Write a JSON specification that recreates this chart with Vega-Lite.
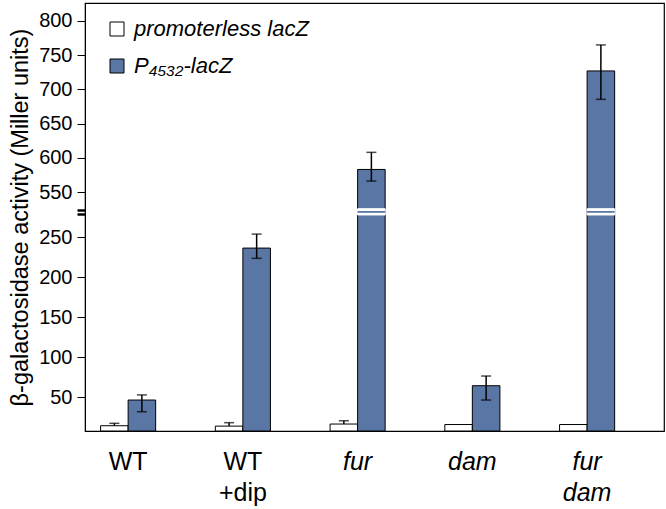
{
  "$schema": "https://vega.github.io/schema/vega-lite/v6.json",
  "width": 579,
  "height": 428,
  "autosize": {"type": "none"},
  "padding": {"left": 85, "top": 3, "right": 2, "bottom": 78},
  "config": {
    "font": "Liberation Sans",
    "view": {"stroke": "black", "strokeWidth": 1.2},
    "axis": {"grid": false, "domainColor": "black", "tickColor": "black", "labelColor": "black", "titleColor": "black"}
  },
  "data": {
    "values": [
      {"group": "WT", "series": "promoterless lacZ", "value": 14.5, "lo": 14.5, "hi": 17.5},
      {"group": "WT", "series": "P₄₅₃₂-lacZ", "value": 46.6, "lo": 32, "hi": 53},
      {"group": "WT +dip", "series": "promoterless lacZ", "value": 14, "lo": 14, "hi": 18.3},
      {"group": "WT +dip", "series": "P₄₅₃₂-lacZ", "value": 236.5, "lo": 223.7, "hi": 254},
      {"group": "fur", "series": "promoterless lacZ", "value": 16.6, "lo": 16.6, "hi": 20.8},
      {"group": "fur", "series": "P₄₅₃₂-lacZ", "value": 583, "lo": 566, "hi": 608},
      {"group": "dam", "series": "promoterless lacZ", "value": 16, "lo": null, "hi": null},
      {"group": "dam", "series": "P₄₅₃₂-lacZ", "value": 64.5, "lo": 46.6, "hi": 76.6},
      {"group": "fur dam", "series": "promoterless lacZ", "value": 16, "lo": null, "hi": null},
      {"group": "fur dam", "series": "P₄₅₃₂-lacZ", "value": 727, "lo": 685.5, "hi": 765}
    ]
  },
  "encoding": {
    "x": {
      "field": "group", "type": "nominal",
      "sort": ["WT", "WT +dip", "fur", "dam", "fur dam"],
      "scale": {"paddingInner": 0.52, "paddingOuter": 0.283, "align": 0.24},
      "axis": {
        "title": null, "ticks": false, "labelAngle": 0, "labelFontSize": 25,
        "labelPadding": 18, "labelLineHeight": 31, "labelOverlap": false,
        "labelExpr": "split(datum.value, ' ')",
        "labelFontStyle": {"condition": {"test": "indexof(datum.value, 'WT') < 0", "value": "italic"}, "value": "normal"}
      }
    },
    "xOffset": {
      "field": "series", "type": "nominal",
      "sort": ["promoterless lacZ", "P₄₅₃₂-lacZ"],
      "scale": {"paddingInner": 0, "paddingOuter": 0}
    }
  },
  "layer": [
    {
      "mark": {"type": "bar", "stroke": "black", "strokeWidth": 1},
      "encoding": {
        "y": {
          "field": "value", "type": "quantitative",
          "scale": {"domain": [7.9, 281.6, 520.8, 826.3], "range": [428, 209, 209, 0], "clamp": true, "nice": false, "zero": false},
          "axis": {
            "title": "β-galactosidase activity (Miller units)",
            "titleFontSize": 23.5, "titleFontWeight": "normal", "titlePadding": 6,
            "labelFontSize": 20, "labelPadding": 5, "tickSize": 8, "tickCount": 30,
            "labelOverlap": false, "labelBound": false, "labelFlush": false,
            "values": [50, 100, 150, 200, 250, 279, 524, 550, 600, 650, 700, 750, 800],
            "labelExpr": "(datum.value == 279 || datum.value == 524) ? '' : datum.label",
            "tickWidth": {"condition": {"test": "datum.value == 279 || datum.value == 524", "value": 2.5}, "value": 1}
          }
        },
        "fill": {
          "field": "series", "type": "nominal",
          "sort": ["promoterless lacZ", "P₄₅₃₂-lacZ"],
          "scale": {"domain": ["promoterless lacZ", "P₄₅₃₂-lacZ"], "range": ["white", "#5a76a5"]},
          "legend": {
            "title": null, "orient": "none", "legendX": 21, "legendY": 15,
            "symbolType": "square", "symbolSize": 196, "symbolStrokeColor": "black", "symbolStrokeWidth": 1,
            "labelFontSize": 22, "labelFontStyle": "italic", "labelOffset": 6, "rowPadding": 15,
            "labelColor": "black", "labelLimit": 400
          }
        }
      }
    },
    {
      "transform": [{"filter": "datum.value > 300"}],
      "mark": {"type": "bar", "fill": "white", "stroke": "white", "strokeWidth": 1},
      "encoding": {
        "y": {"datum": 525.6, "type": "quantitative"},
        "y2": {"datum": 277.9}
      }
    },
    {
      "transform": [{"filter": "datum.value > 300"}],
      "mark": {"type": "bar", "fill": "#5a76a5"},
      "encoding": {
        "y": {"datum": 522.3, "type": "quantitative"},
        "y2": {"datum": 280.6}
      }
    },
    {
      "transform": [{"filter": "datum.lo != null"}],
      "mark": {"type": "rule", "color": "black", "strokeWidth": 1.5},
      "encoding": {
        "y": {"field": "lo", "type": "quantitative"},
        "y2": {"field": "hi"}
      }
    },
    {
      "transform": [{"filter": "datum.lo != null"}],
      "mark": {"type": "tick", "color": "black", "thickness": 1.5, "size": 10, "orient": "horizontal"},
      "encoding": {
        "y": {"field": "hi", "type": "quantitative"}
      }
    },
    {
      "transform": [{"filter": "datum.lo != null && datum.lo < datum.value"}],
      "mark": {"type": "tick", "color": "black", "thickness": 1.5, "size": 10, "orient": "horizontal"},
      "encoding": {
        "y": {"field": "lo", "type": "quantitative"}
      }
    }
  ]
}
